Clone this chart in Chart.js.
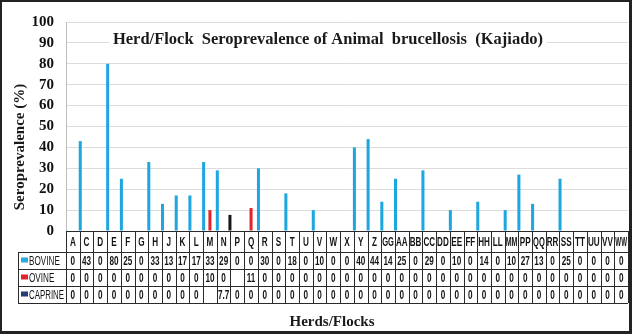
<!DOCTYPE html>
<html>
<head>
<meta charset="utf-8">
<script src="https://cdn.jsdelivr.net/npm/chart.js@4/dist/chart.umd.min.js"></script>
<style>
  html, body { margin: 0; padding: 0; background: #fff; }
  #wrap { position: relative; width: 632px; height: 334px; }
  #frame {
    position: absolute; left: 0; top: 0; width: 632px; height: 334px;
    box-sizing: border-box; border: 2px solid #222;
    border-right-width: 3px; border-bottom-width: 3px; pointer-events: none;
  }
</style>
</head>
<body>
<div id="wrap">
  <canvas id="chart" width="632" height="334"></canvas>
  <div id="frame"></div>
</div>
<script>
// Herds / flocks sampled
const herds = ['A','C','D','E','F','G','H','J','K','L','M','N','P','Q','R','S','T','U','V','W',
               'X','Y','Z','GG','AA','BB','CC','DD','EE','FF','HH','LL','MM','PP','QQ','RR','SS','TT','UU','VV','WW'];

// Seroprevalence (%) per herd/flock; null = not tested
const bovine  = [0,43,0,80,25,0,33,13,17,17,33,29,0,0,30,0,18,0,10,0,
                 0,40,44,14,25,0,29,0,10,0,14,0,10,27,13,0,25,0,0,0,0];
const ovine   = [0,0,0,0,0,0,0,0,0,0,10,0,null,11,0,0,0,0,0,0,
                 0,0,0,0,0,0,0,0,0,0,0,0,0,0,0,0,0,0,0,0,0];
const caprine = [0,0,0,0,0,0,0,0,0,0,null,7.7,0,0,0,0,0,0,0,0,
                 0,0,0,0,0,0,0,0,0,0,0,0,0,0,0,0,0,0,0,0,0];

const seriesNames = ['BOVINE','OVINE','CAPRINE'];
const yTicks = [0,10,20,30,40,50,60,70,80,90,100];

const titleText = 'Herd/Flock  Seroprevalence of Animal  brucellosis  (Kajiado)';
const yTitle = 'Seroprevalence (%)';
const xTitle = 'Herds/Flocks';

const barColors = ['#1ea6e0', '#e3232b', '#15171f'];
const keyColors = ['#29a9e0', '#e3232b', '#243c78'];

const serif = '"Liberation Serif", "Times New Roman", serif';
const sans = '"Liberation Sans", Arial, sans-serif';

// condensed table lettering: squeezed horizontally, and further if it would overflow its cell
function narrowText(ctx, text, x, y, align, maxW) {
  let k = 0.68;
  const w = ctx.measureText(text).width * k;
  if (maxW && w > maxW) k *= maxW / w;
  ctx.save();
  ctx.translate(x, y);
  ctx.scale(k, 1);
  ctx.textAlign = align;
  ctx.fillText(text, 0, 0);
  ctx.restore();
}

// Data table drawn under the category axis, aligned with the bar columns
const dataTable = {
  id: 'dataTable',
  afterDraw(chart) {
    const { ctx, chartArea: ca } = chart;
    const n = herds.length;
    const colW = (ca.right - ca.left) / n;
    const rows = [ca.bottom, ca.bottom + 21, ca.bottom + 38, ca.bottom + 55, ca.bottom + 72];
    const keyLeft = 18;
    const values = [bovine, ovine, caprine];

    ctx.save();
    ctx.strokeStyle = '#2a2a2a';
    ctx.lineWidth = 1;
    ctx.beginPath();
    ctx.moveTo(ca.left, rows[0] + 0.5); ctx.lineTo(ca.right, rows[0] + 0.5);
    for (let r = 1; r < rows.length; r++) {
      ctx.moveTo(keyLeft, rows[r] + 0.5); ctx.lineTo(ca.right, rows[r] + 0.5);
    }
    ctx.moveTo(keyLeft + 0.5, rows[1]); ctx.lineTo(keyLeft + 0.5, rows[4]);
    for (let i = 0; i <= n; i++) {
      const xx = Math.round(ca.left + i * colW) + 0.5;
      ctx.moveTo(xx, rows[0]); ctx.lineTo(xx, rows[4]);
    }
    ctx.stroke();

    ctx.fillStyle = '#141414';
    ctx.font = 'bold 12px ' + sans;
    ctx.textBaseline = 'middle';
    for (let i = 0; i < n; i++) {
      const cx = ca.left + (i + 0.5) * colW;
      narrowText(ctx, herds[i], cx, (rows[0] + rows[1]) / 2 + 1, 'center', colW - 2);
      for (let s = 0; s < 3; s++) {
        const v = values[s][i];
        if (v !== null) narrowText(ctx, String(v), cx, (rows[s + 1] + rows[s + 2]) / 2 + 1, 'center', colW - 2);
      }
    }

    for (let s = 0; s < 3; s++) {
      const cy = (rows[s + 1] + rows[s + 2]) / 2;
      ctx.fillStyle = keyColors[s];
      ctx.fillRect(keyLeft + 3, cy - 3, 7, 5);
      ctx.fillStyle = '#141414';
      ctx.font = '12px ' + sans;
      narrowText(ctx, seriesNames[s], keyLeft + 11, cy + 1, 'left', ca.left - keyLeft - 13);
    }
    ctx.restore();
  }
};

// Chart title (boxed over the gridlines) and axis titles
const titles = {
  id: 'titles',
  afterDraw(chart) {
    const { ctx } = chart;
    ctx.save();
    ctx.font = 'bold 16.5px ' + serif;
    ctx.textAlign = 'center';
    ctx.textBaseline = 'middle';
    const w = ctx.measureText(titleText).width;
    const tx = 328, ty = 40;
    ctx.fillStyle = '#fff';
    ctx.fillRect(tx - w / 2 - 4, ty - 10, w + 8, 20);
    ctx.fillStyle = '#1a1a1a';
    ctx.fillText(titleText, tx, ty);

    ctx.font = 'bold 15px ' + serif;
    ctx.fillText(xTitle, 332, 322);

    ctx.translate(20, 147);
    ctx.rotate(-Math.PI / 2);
    ctx.fillText(yTitle, 0, 0);
    ctx.restore();
  }
};

new Chart(document.getElementById('chart'), {
  type: 'bar',
  data: {
    labels: herds,
    datasets: [bovine, ovine, caprine].map((d, i) => ({
      label: seriesNames[i],
      data: d,
      backgroundColor: barColors[i],
      categoryPercentage: 1.38,
      barPercentage: 0.48
    }))
  },
  options: {
    responsive: false,
    animation: false,
    devicePixelRatio: 1,
    layout: { padding: { top: 22, right: 4, left: 0, bottom: 0 } },
    plugins: {
      legend: { display: false },
      tooltip: { enabled: false },
      title: { display: false }
    },
    scales: {
      x: {
        grid: { display: false, drawTicks: false },
        border: { display: false },
        ticks: { display: false },
        afterFit(s) { s.height = 103; }
      },
      y: {
        min: 0, max: 100,
        afterBuildTicks(s) { s.ticks = yTicks.map(v => ({ value: v })); },
        ticks: { autoSkip: false, padding: 12, color: '#111', font: { family: serif, size: 15, weight: 'bold' } },
        grid: { color: '#dcdcdc', drawTicks: false },
        border: { display: true, color: '#bdbdbd' },
        afterFit(s) { s.width = 66; }
      }
    }
  },
  plugins: [dataTable, titles]
});
</script>
</body>
</html>
